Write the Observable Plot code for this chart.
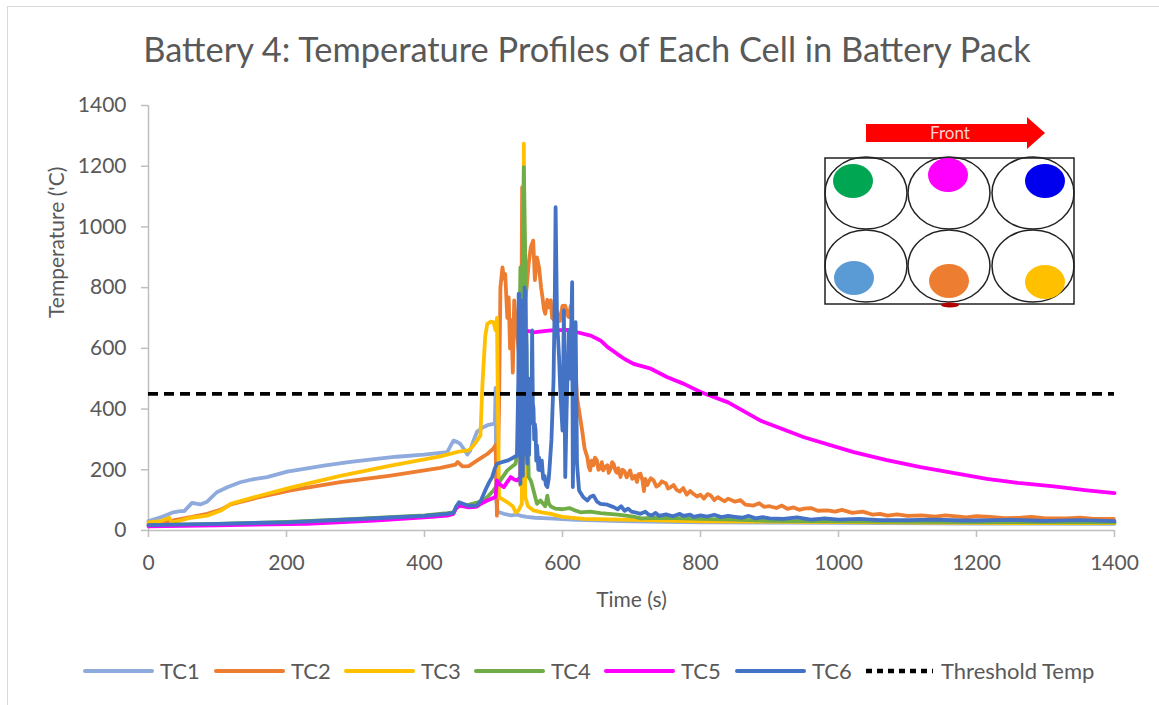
<!DOCTYPE html>
<html>
<head>
<meta charset="utf-8">
<script src="https://cdn.jsdelivr.net/npm/d3@7"></script>
<script src="https://cdn.jsdelivr.net/npm/@observablehq/plot@0.6"></script>
<style>
  body { margin: 0; background: #fff; font-family: Lato, "Open Sans", sans-serif; }
  #wrap { position: relative; width: 1159px; height: 705px; overflow: hidden; background: #fff; }
  #frame { position: absolute; left: 7px; top: 6px; width: 1300px; height: 800px; border: 1px solid #d9d9d9; box-sizing: border-box; }
  #chart { position: absolute; left: 0; top: 80px; }
  #overlay { position: absolute; left: 0; top: 0; pointer-events: none; }
</style>
</head>
<body>
<div id="wrap">
  <div id="frame"></div>
  <div id="chart"></div>
  <svg id="overlay" width="1159" height="705"></svg>
</div>
<script>
// ---------- data ----------
const TITLE = "Battery 4: Temperature Profiles of Each Cell in Battery Pack";
const X_LABEL = "Time (s)";
const Y_LABEL = "Temperature ('C)";
const SERIES = ["TC1", "TC2", "TC3", "TC4", "TC5", "TC6"];
const COLORS = ["#8faadc", "#ed7d31", "#ffc000", "#70ad47", "#ff00ff", "#4472c4"];
const THRESHOLD_LABEL = "Threshold Temp";
const THRESHOLD = 450;
const TIME_TICKS = [0, 200, 400, 600, 800, 1000, 1200, 1400];
const TEMP_TICKS = [0, 200, 400, 600, 800, 1000, 1200, 1400];
const INSET_LABEL = "Front";

const TC1 = [[0,31],[20,45],[36,60],[46,64],[52,64],[63,91],[75,86],[85,95],[99,126],[115,143],[133,159],[150,168],[172,176],[201,194],[230,205],[254,214],[290,225],[327,235],[360,243],[399,250],[433,258],[438,280],[442,296],[447,292],[452,285],[458,265],[462,250],[466,262],[471,296],[476,325],[485,340],[493,348],[500,351],[502,355],[503,470],[504,100],[506,62],[515,55],[525,50],[535,52],[540,48],[548,45],[560,42],[580,40],[620,35],[700,30],[800,27],[1000,25],[1200,23],[1400,22]];

const TC2 = [[0,22],[20,28],[36,33],[61,44],[85,55],[104,68],[119,86],[157,108],[206,132],[278,159],[351,181],[423,206],[445,217],[448,226],[455,211],[464,212],[476,230],[486,245],[491,252],[500,270],[503,282],[505,49],[508,400],[510,800],[513,867],[515,830],[517,845],[520,700],[522,768],[524,600],[526,693],[528,520],[530,758],[532,700],[535,626],[538,560],[539,150],[541.5,1131],[543,140],[546,760],[548,801],[551,880],[554,933],[557.5,955],[560,825],[563,900],[566,867],[569,800],[571,768],[573,730],[575,714],[578,760],[580,735],[583,758],[585,700],[588,693],[592,720],[596,690],[600,740],[604,741],[607,710],[609,703],[612,740],[616,626],[619,520],[621,439],[625,380],[628.5,329],[632,270],[636,241],[638,210],[640,198],[642,230],[645,215],[647,240],[650,230],[652,200],[655,205],[657,225],[659,198],[662,210],[665,215],[667,190],[670,205],[672,225],[674,220],[677,195],[679,190],[681,205],[684,176],[687,200],[690,195],[693,175],[698,198],[701,170],[705,180],[708,160],[710,185],[713,187],[716,165],[718,130],[720,170],[723,150],[725,160],[728,172],[732,165],[736,145],[740,150],[744,162],[750,155],[753,138],[757,143],[761,150],[765,135],[770,128],[775,140],[780,118],[785,130],[790,120],[795,112],[800,118],[805,105],[810,120],[815,115],[820,100],[825,110],[829,104],[835,96],[840,105],[850,95],[858,100],[865,85],[877,82],[885,90],[892,78],[900,80],[910,74],[918,82],[926,71],[935,76],[943,68],[950,72],[960,74],[970,65],[984,66],[995,62],[1005,68],[1020,58],[1035,62],[1050,52],[1060,55],[1071,49],[1085,53],[1100,48],[1120,50],[1140,46],[1155,50],[1167,47],[1185,43],[1200,47],[1220,45],[1240,41],[1264,42],[1280,45],[1300,40],[1330,40],[1350,42],[1370,38],[1399,38]];

const TC3 = [[0,27],[20,32],[30,42],[33,30],[36,27],[61,42],[85,49],[104,65],[115,80],[119,88],[157,112],[206,141],[278,180],[351,214],[423,244],[452,261],[464,264],[471,280],[476,296],[481,313],[484,483],[488,640],[491,681],[496,688],[500,686],[503,660],[505,700],[507,300],[508,110],[515,100],[522,90],[528,80],[532,60],[536,65],[541,88],[543,600],[544,1274],[545,700],[546,110],[550,80],[558,66],[570,60],[583,55],[600,45],[631,38],[703,35],[800,30],[1000,28],[1200,25],[1400,24]];

const TC4 = [[0,18],[100,22],[200,28],[300,38],[400,50],[433,57],[442,60],[447,79],[455,82],[465,85],[476,92],[486,99],[493,115],[500,132],[510,165],[520,198],[532,220],[535,260],[537,500],[539,867],[541,600],[544,1197],[546,900],[548,560],[550,300],[551,176],[554,165],[556,150],[558,132],[563,88],[568,99],[575,80],[578,115],[580,90],[583,79],[590,72],[600,70],[610,74],[616,68],[626,60],[640,62],[655,57],[680,52],[703,46],[713,40],[750,42],[800,38],[850,36],[900,32],[1000,30],[1200,28],[1400,27]];

const TC5 = [[0,14],[100,17],[229,22],[327,33],[400,43],[433,49],[442,55],[445,70],[450,82],[455,80],[464,76],[470,77],[476,79],[483,90],[491,99],[503,110],[505,165],[510,150],[515,143],[520,160],[525,176],[530,168],[534,165],[539,176],[542,400],[546,659],[558,653],[570,656],[583,659],[595,660],[607,661],[621,653],[641,642],[655,626],[665,605],[679,582],[690,565],[703,549],[728,533],[752,505],[776,483],[800,456],[840,422],[887,362],[950,307],[1022,258],[1070,232],[1119,209],[1170,188],[1215,170],[1260,157],[1312,145],[1360,132],[1400,123]];

const TC6 = [[0,18],[100,22],[200,27],[300,37],[400,48],[433,55],[442,58],[446,80],[450,93],[456,88],[462,82],[476,82],[482,100],[488,132],[494,160],[498,176],[502,205],[505,220],[512,225],[520,230],[527,238],[534,247],[536,500],[536.5,780],[537,250],[537.5,779],[538,300],[538.5,700],[539,154],[539.5,600],[540,650],[540.5,200],[541,757],[541.5,350],[542,700],[542.5,180],[543,400],[543.5,720],[544,250],[545,801],[545.5,300],[546,790],[546.5,450],[547,350],[547.5,650],[548,600],[548.5,250],[549,220],[549.5,450],[550,300],[551,500],[551.5,250],[552,300],[552.5,450],[553,350],[554,494],[555,380],[556,659],[557,420],[558,400],[559,300],[560,350],[561,329],[562,230],[563,280],[564,250],[565,200],[566,240],[568,198],[570,230],[572,170],[574,180],[576,150],[578,143],[580,170],[581,198],[584,300],[587,494],[589,800],[590,1065],[592,700],[595,571],[597,450],[600,329],[602,725],[604,176],[606,400],[609,660],[611,500],[614,818],[615,143],[617,500],[619,686],[621,220],[624,132],[630,110],[636,99],[640,110],[645,115],[650,95],[655,88],[665,85],[674,77],[680,70],[685,80],[690,65],[695,72],[700,62],[705,60],[713,55],[720,62],[725,52],[730,50],[735,58],[740,48],[750,53],[760,47],[770,55],[775,48],[785,52],[790,45],[800,50],[810,46],[820,52],[830,44],[840,48],[850,45],[860,42],[870,48],[880,40],[890,44],[900,40],[920,38],[940,43],[960,36],[980,40],[1000,36],[1030,38],[1060,34],[1100,34],[1140,36],[1180,33],[1200,33],[1250,35],[1300,32],[1350,34],[1400,31]];

// ---------- build ----------
const SERIES_DATA = [TC1, TC2, TC3, TC4, TC5, TC6];
const rows = [];
SERIES_DATA.forEach((arr, i) => arr.forEach(([t, v]) => rows.push({series: SERIES[i], t, v})));

const GRAY_TXT = "#595959";
const AXIS_GRAY = "#bfbfbf";
const FONT = "Lato, 'Open Sans', sans-serif";

const chart = Plot.plot({
  width: 1159,
  height: 535,
  marginLeft: 148,
  marginRight: 45,
  marginTop: 25,
  marginBottom: 85,
  style: {background: "transparent", fontFamily: FONT, overflow: "visible"},
  x: {domain: [0, 1400], ticks: TIME_TICKS},
  y: {domain: [0, 1400], ticks: TEMP_TICKS},
  color: {domain: SERIES, range: COLORS},
  marks: [
    Plot.ruleY([0], {stroke: AXIS_GRAY, strokeWidth: 1.5}),
    Plot.ruleX([0], {stroke: AXIS_GRAY, strokeWidth: 1.5}),
    Plot.axisX({ticks: TIME_TICKS, tickSize: 7, tickFormat: () => "", color: AXIS_GRAY, strokeWidth: 1.5, label: null}),
    Plot.axisX({ticks: TIME_TICKS, tickSize: 0, tickPadding: 25, tickFormat: d => String(d), color: GRAY_TXT, fontSize: 21, label: null}),
    Plot.axisY({ticks: TEMP_TICKS, tickSize: 7, tickFormat: () => "", color: AXIS_GRAY, strokeWidth: 1.5, label: null}),
    Plot.axisY({ticks: TEMP_TICKS, tickSize: 0, tickPadding: 22, tickFormat: d => String(d), color: GRAY_TXT, fontSize: 21, label: null}),
    Plot.line(rows, {x: "t", y: "v", z: "series", stroke: "series", strokeWidth: 3.8, strokeLinejoin: "round", strokeLinecap: "round"}),
    Plot.ruleY([THRESHOLD], {stroke: "#000", strokeWidth: 3.6, strokeDasharray: "10,6"}),
    Plot.text([X_LABEL], {text: d => d, frameAnchor: "bottom", dy: 70, fontSize: 21, fill: GRAY_TXT, lineAnchor: "middle"}),
    Plot.text([Y_LABEL], {text: d => d, frameAnchor: "left", dx: -91, rotate: -90, fontSize: 21, fill: GRAY_TXT, lineAnchor: "middle"})
  ]
});
document.getElementById("chart").appendChild(chart);

// ---------- overlay: title, legend, inset ----------
const svg = d3.select("#overlay");
svg.append("text")
  .attr("x", 587).attr("y", 62)
  .attr("text-anchor", "middle")
  .attr("font-family", FONT).attr("font-size", 34.4)
  .attr("fill", GRAY_TXT)
  .text(TITLE);

// legend
const legendItems = SERIES.map((s, i) => ({label: s, color: COLORS[i], dash: null}))
  .concat([{label: THRESHOLD_LABEL, color: "#000", dash: "6,5"}]);
const legendX = [83, 214, 344, 474, 604, 735, 864];
const lg = svg.append("g");
legendItems.forEach((it, i) => {
  const x0 = legendX[i];
  lg.append("line").attr("x1", x0 + 2).attr("x2", x0 + 69).attr("y1", 671).attr("y2", 671)
    .attr("stroke", it.color).attr("stroke-width", it.dash ? 4.5 : 4)
    .attr("stroke-linecap", it.dash ? "butt" : "round")
    .attr("stroke-dasharray", it.dash);
  lg.append("text").attr("x", x0 + 77).attr("y", 678.5)
    .attr("font-family", FONT).attr("font-size", 22).attr("fill", GRAY_TXT)
    .text(it.label);
});

// inset diagram (battery pack layout)
const ins = svg.append("g");
ins.append("polygon")
  .attr("points", "866,124 1027,124 1027,117 1045,133 1027,149 1027,142 866,142")
  .attr("fill", "#ff0000");
ins.append("text").attr("x", 950).attr("y", 139).attr("text-anchor", "middle")
  .attr("font-family", FONT).attr("font-size", 17).attr("fill", "#ffd0d0").text(INSET_LABEL);
ins.append("rect").attr("x", 825).attr("y", 158).attr("width", 249).attr("height", 146)
  .attr("fill", "#fff").attr("stroke", "#222").attr("stroke-width", 1.5);
const cellCols = [866, 949, 1033], cellRows = [193, 266];
cellRows.forEach(cy => cellCols.forEach(cx => {
  ins.append("ellipse").attr("cx", cx).attr("cy", cy).attr("rx", 41).attr("ry", 36)
    .attr("fill", "none").attr("stroke", "#222").attr("stroke-width", 1.5);
}));
const dots = [
  [853, 181, "#00a651"], [948, 175, "#ff00ff"], [1045, 181, "#0000ee"],
  [854, 278, "#5b9bd5"], [949, 281, "#ed7d31"], [1045, 282, "#ffc000"]
];
dots.forEach(([cx, cy, c]) => {
  ins.append("ellipse").attr("cx", cx).attr("cy", cy).attr("rx", 20).attr("ry", 17).attr("fill", c);
});
ins.append("ellipse").attr("cx", 950).attr("cy", 305).attr("rx", 9).attr("ry", 2.5).attr("fill", "#b00000");
</script>
</body>
</html>
